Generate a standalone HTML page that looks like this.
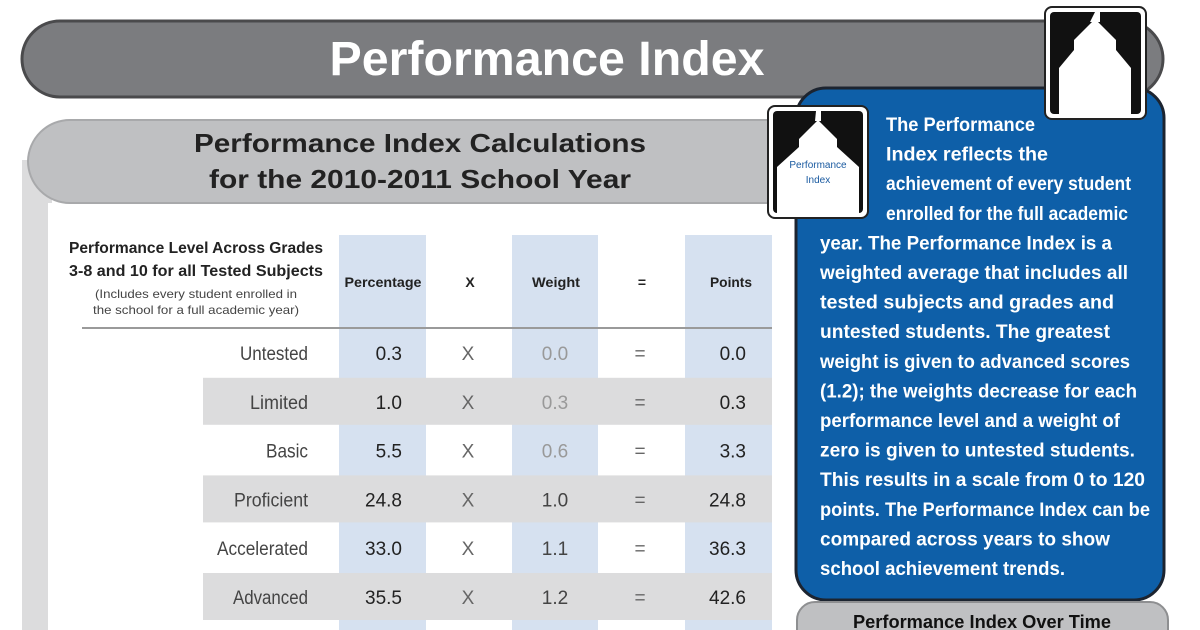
<!DOCTYPE html>
<html><head><meta charset="utf-8"><style>
html,body{margin:0;padding:0;background:#fff;}
svg{display:block;}
</style></head><body>
<svg id="svg" width="1200" height="630" viewBox="0 0 1200 630" xmlns="http://www.w3.org/2000/svg">
  <path d="M60,21 H1125 A38,38 0 0 1 1125,97 H60 A38,38 0 0 1 60,21 Z" fill="#7b7c7f" stroke="#4a4a4c" stroke-width="3"/>
  <text x="547" y="75" text-anchor="middle" font-family="Liberation Sans, sans-serif" font-weight="bold" font-size="48" fill="#fff" textLength="435" lengthAdjust="spacingAndGlyphs">Performance Index</text>

  <rect x="22" y="160" width="30" height="470" fill="#dcdcdd"/>
  <rect x="48" y="203" width="760" height="427" fill="#fff"/>
  <path d="M70,120 H790 V203 H70 A42,42 0 0 1 28,161 A42,42 0 0 1 70,120 Z" fill="#bfc0c2" stroke="#a8a9ab" stroke-width="2"/>
  <text x="420" y="152" text-anchor="middle" font-family="Liberation Sans, sans-serif" font-weight="bold" font-size="26" fill="#222" textLength="452" lengthAdjust="spacingAndGlyphs">Performance Index Calculations</text>
  <text x="420" y="188" text-anchor="middle" font-family="Liberation Sans, sans-serif" font-weight="bold" font-size="26" fill="#222" textLength="422" lengthAdjust="spacingAndGlyphs">for the 2010-2011 School Year</text>

  <g id="table"></g>

  <rect x="796" y="88" width="368" height="512" rx="30" fill="#0e5fa8" stroke="#1c2430" stroke-width="3"/>
  <g id="infotext" font-family="Liberation Sans, sans-serif" font-weight="bold" font-size="19" fill="#fff"></g>

  <g>
    <rect x="1045" y="7" width="101" height="112" rx="7" fill="#fff" stroke="#222" stroke-width="2"/>
    <rect x="1050" y="12" width="91" height="102" rx="4" fill="#111"/>
    <path d="M1095,12 h5 v10 h-2 l18,18 v10 l15,18 v46 h-72 v-46 l15,-18 v-10 l18,-18 h-2 z" fill="#fff"/>
  </g>
  <g>
    <rect x="768" y="106" width="100" height="112" rx="7" fill="#fff" stroke="#222" stroke-width="2"/>
    <rect x="773" y="111" width="90" height="102" rx="4" fill="#111"/>
    <path d="M816,111 h5 v10 h-2 l18,18 v8 l22,20 v46 h-82 v-46 l22,-20 v-8 l18,-18 h-2 z" fill="#fff"/>
    <text x="818" y="168" text-anchor="middle" font-family="Liberation Sans, sans-serif" font-size="10" fill="#1a5aa0">Performance</text>
    <text x="818" y="183" text-anchor="middle" font-family="Liberation Sans, sans-serif" font-size="10" fill="#1a5aa0">Index</text>
  </g>

  <path d="M815,602 H1150 A18,18 0 0 1 1168,620 V632 H797 V620 A18,18 0 0 1 815,602 Z" fill="#bfc0c2" stroke="#8e8f91" stroke-width="2"/>
  <text x="982" y="628" text-anchor="middle" font-family="Liberation Sans, sans-serif" font-weight="bold" font-size="18" fill="#111" textLength="258" lengthAdjust="spacingAndGlyphs">Performance Index Over Time</text>
</svg>
<script>
const levels = ["Untested","Limited","Basic","Proficient","Accelerated","Advanced"];
const percentages = ["0.3","1.0","5.5","24.8","33.0","35.5"];
const weights = ["0.0","0.3","0.6","1.0","1.1","1.2"];
const points = ["0.0","0.3","3.3","24.8","36.3","42.6"];
const labelWidths = {Untested:68,Limited:58,Basic:42,Proficient:74,Accelerated:91,Advanced:75};
const infoLines = [
 ["The Performance",886,1035],["Index reflects the",886,1048],["achievement of every student",886,1131],["enrolled for the full academic",886,1128],
 ["year.  The Performance Index is a",820,1112],["weighted average that includes all",820,1128],["tested subjects and grades and",820,1114],
 ["untested students. The greatest",820,1110],["weight is given to advanced scores",820,1130],["(1.2); the weights decrease for each",820,1137],
 ["performance level and a weight of",820,1120],["zero is given to untested students.",820,1135],["This results in a scale from 0 to 120",820,1145],
 ["points. The Performance Index can be",820,1150],["compared across years to show",820,1110],["school achievement trends.",820,1065]
];
const NS="http://www.w3.org/2000/svg";
function mk(tag, attrs, parent, txt){const e=document.createElementNS(NS,tag);for(const k in attrs)e.setAttribute(k,attrs[k]);if(txt!==undefined)e.textContent=txt;parent.appendChild(e);return e;}
const tb=document.getElementById('table');
const rowH=48.8, row0=353;
function rowY(i){return row0+i*rowH;}
const cols=[[339,426],[512,598],[685,772]];
cols.forEach((c,i)=>{const r=mk('rect',{x:c[0],y:235,width:c[1]-c[0],height:395,fill:'#d6e1f0'},tb);

});
levels.forEach((l,i)=>{ if(i%2===1){const r=mk('rect',{x:203,y:rowY(i)-24,width:569,height:47,fill:'#dcdcdd'},tb);

}});
const ln=mk('line',{x1:82,y1:328,x2:772,y2:328,stroke:'#9a9a9a','stroke-width':2},tb);


const F="Liberation Sans, sans-serif";
function t(x,y,s,opts,name){const e=mk('text',Object.assign({x:x,y:y,'font-family':F,fill:'#222'},opts),tb,s);

return e;}
t(196,253,"Performance Level Across Grades",{'text-anchor':'middle','font-size':16,'font-weight':'bold',textLength:254,lengthAdjust:'spacingAndGlyphs'},'header-level-line1');
t(196,276,"3-8 and 10 for all Tested Subjects",{'text-anchor':'middle','font-size':16,'font-weight':'bold',textLength:254,lengthAdjust:'spacingAndGlyphs'},'header-level-line2');
t(196,298,"(Includes every student enrolled in",{'text-anchor':'middle','font-size':12,fill:'#444',textLength:202,lengthAdjust:'spacingAndGlyphs'},'header-note-line1');
t(196,314,"the school for a full academic year)",{'text-anchor':'middle','font-size':12,fill:'#444',textLength:206,lengthAdjust:'spacingAndGlyphs'},'header-note-line2');
t(383,287,"Percentage",{'text-anchor':'middle','font-size':14,'font-weight':'bold',textLength:77,lengthAdjust:'spacingAndGlyphs'},'header-percentage');
t(470,287,"X",{'text-anchor':'middle','font-size':14,'font-weight':'bold'},'header-times');
t(556,287,"Weight",{'text-anchor':'middle','font-size':14,'font-weight':'bold',textLength:48,lengthAdjust:'spacingAndGlyphs'},'header-weight');
t(642,287,"=",{'text-anchor':'middle','font-size':14,'font-weight':'bold'},'header-equals');
t(731,287,"Points",{'text-anchor':'middle','font-size':14,'font-weight':'bold',textLength:42,lengthAdjust:'spacingAndGlyphs'},'header-points');
levels.forEach((l,i)=>{
  const y=rowY(i)+7, k=l.toLowerCase();
  t(308,y,l,{'text-anchor':'end','font-size':19,fill:'#444',textLength:labelWidths[l]||l.length*8,lengthAdjust:'spacingAndGlyphs'},'level-'+k);
  t(402,y,percentages[i],{'text-anchor':'end','font-size':19},'percentage-'+k);
  t(468,y,"X",{'text-anchor':'middle','font-size':19,fill:'#666'},'times-'+k);
  t(555,y,weights[i],{'text-anchor':'middle','font-size':19,fill:i<3?'#999':'#444'},'weight-'+k);
  t(640,y,"=",{'text-anchor':'middle','font-size':19,fill:'#666'},'equals-'+k);
  t(746,y,points[i],{'text-anchor':'end','font-size':19},'points-'+k);
});
const it=document.getElementById('infotext');
infoLines.forEach((L,i)=>{const e=mk('text',{x:L[1],y:131+i*29.6,textLength:L[2]-L[1],lengthAdjust:'spacingAndGlyphs'},it,L[0]);

});
</script>
</body></html>
